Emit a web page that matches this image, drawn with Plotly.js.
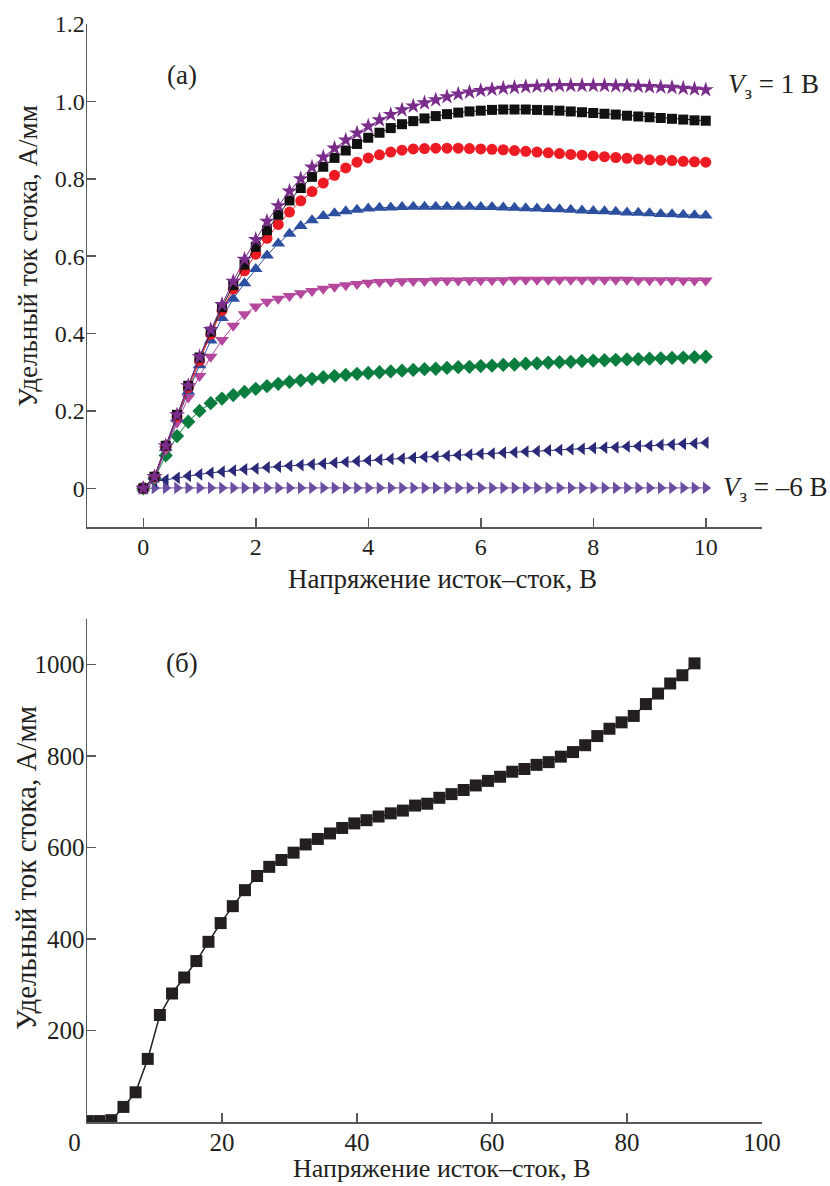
<!DOCTYPE html>
<html>
<head>
<meta charset="utf-8">
<script src="https://cdn.plot.ly/plotly-3.0.1.min.js"></script>
<style>html,body{margin:0;padding:0;background:#fff;}#chart{width:830px;height:1186px;}</style>
</head>
<body>
<div id="chart"></div>
<script>
// ---------- Panel (a): drain current vs drain-source voltage for gate voltages ----------
const vdsA = [0,0.2,0.4,0.6,0.8,1.0,1.2,1.4,1.6,1.8,2.0,2.2,2.4,2.6,2.8,3.0,3.2,3.4,3.6,3.8,4.0,4.2,4.4,4.6,4.8,5.0,5.2,5.4,5.6,5.8,6.0,6.2,6.4,6.6,6.8,7.0,7.2,7.4,7.6,7.8,8.0,8.2,8.4,8.6,8.8,9.0,9.2,9.4,9.6,9.8,10.0];

const idStar = [0,0.03,0.11,0.19,0.265,0.34,0.41,0.475,0.535,0.592,0.643,0.69,0.73,0.768,0.8,0.83,0.856,0.879,0.9,0.918,0.936,0.952,0.966,0.978,0.988,0.996,1.004,1.012,1.019,1.024,1.028,1.031,1.034,1.036,1.038,1.039,1.04,1.041,1.041,1.041,1.041,1.041,1.04,1.04,1.039,1.038,1.037,1.036,1.034,1.032,1.03];
const idSquare = [0,0.03,0.11,0.19,0.265,0.338,0.405,0.468,0.525,0.578,0.624,0.667,0.707,0.744,0.776,0.805,0.831,0.854,0.873,0.89,0.906,0.919,0.931,0.941,0.949,0.956,0.962,0.967,0.971,0.974,0.976,0.978,0.979,0.979,0.979,0.978,0.977,0.976,0.974,0.972,0.97,0.968,0.966,0.963,0.961,0.959,0.957,0.955,0.953,0.951,0.95];
const idCircle = [0,0.03,0.11,0.185,0.26,0.33,0.398,0.46,0.515,0.562,0.605,0.646,0.682,0.714,0.743,0.767,0.789,0.809,0.828,0.843,0.854,0.862,0.869,0.874,0.877,0.878,0.879,0.879,0.879,0.878,0.877,0.876,0.875,0.873,0.871,0.869,0.867,0.865,0.863,0.861,0.859,0.857,0.855,0.853,0.851,0.849,0.848,0.847,0.845,0.844,0.843];
const idTriUp = [0,0.03,0.105,0.18,0.25,0.318,0.382,0.44,0.49,0.53,0.567,0.602,0.633,0.658,0.678,0.693,0.704,0.711,0.716,0.72,0.723,0.725,0.726,0.727,0.728,0.728,0.728,0.728,0.728,0.728,0.727,0.727,0.726,0.725,0.724,0.723,0.722,0.721,0.72,0.718,0.717,0.716,0.715,0.713,0.712,0.711,0.709,0.708,0.707,0.706,0.705];
const idTriDown = [0,0.025,0.1,0.17,0.235,0.29,0.34,0.383,0.42,0.45,0.47,0.482,0.49,0.497,0.504,0.51,0.516,0.521,0.525,0.528,0.531,0.533,0.534,0.535,0.536,0.536,0.537,0.537,0.537,0.538,0.538,0.538,0.538,0.539,0.539,0.539,0.539,0.539,0.539,0.539,0.539,0.539,0.539,0.539,0.538,0.538,0.538,0.538,0.537,0.537,0.537];
const idDiamond = [0,0.026,0.085,0.135,0.172,0.2,0.22,0.232,0.241,0.249,0.257,0.264,0.27,0.275,0.279,0.283,0.287,0.29,0.293,0.296,0.298,0.3,0.302,0.304,0.306,0.308,0.309,0.311,0.313,0.314,0.316,0.317,0.319,0.32,0.322,0.323,0.325,0.326,0.327,0.329,0.33,0.331,0.332,0.333,0.334,0.335,0.336,0.337,0.338,0.339,0.34];
const idTriLeft = [0,0.018,0.022,0.027,0.032,0.036,0.04,0.043,0.046,0.049,0.051,0.054,0.056,0.058,0.06,0.062,0.064,0.066,0.068,0.07,0.072,0.074,0.076,0.077,0.079,0.081,0.082,0.084,0.086,0.087,0.089,0.09,0.092,0.093,0.095,0.096,0.098,0.099,0.101,0.102,0.104,0.105,0.106,0.108,0.109,0.11,0.112,0.113,0.115,0.116,0.118];
const idTriRight = [0,0.001,0.001,0.001,0.001,0.001,0.001,0.001,0.001,0.001,0.001,0.001,0.001,0.001,0.001,0.001,0.001,0.001,0.001,0.001,0.001,0.001,0.001,0.001,0.001,0.001,0.001,0.001,0.001,0.001,0.001,0.001,0.001,0.001,0.001,0.001,0.001,0.001,0.001,0.001,0.001,0.001,0.001,0.001,0.001,0.001,0.001,0.001,0.001,0.001,0.001];

const yTickValsA = [0,0.2,0.4,0.6,0.8,1.0,1.2];
const yTickTextA = ["0","0.2","0.4","0.6","0.8","1.0","1.2"];
const xTickValsA = [0,2,4,6,8,10];

// ---------- Panel (б) ----------
const vdsB = [0,1.8,3.6,5.4,7.2,9,10.8,12.6,14.4,16.2,18,19.8,21.6,23.4,25.2,27,28.8,30.6,32.4,34.2,36,37.8,39.6,41.4,43.2,45,46.8,48.6,50.4,52.2,54,55.8,57.6,59.4,61.2,63,64.8,66.6,68.4,70.2,72,73.8,75.6,77.4,79.2,81,82.8,84.6,86.4,88.2,90];
const idB = [2,2,4,33,65,138,234,281,316,352,394,435,472,507,538,558,573,589,607,619,631,643,653,660,668,675,681,692,696,709,717,726,736,746,755,766,772,781,787,799,809,824,844,860,874,888,914,937,959,977,1003];
const yTickValsB = [200,400,600,800,1000];
const xTickValsB = [0,20,40,60,80,100];
const xTickTextB = ["0\u00a0\u00a0\u00a0\u00a0","20","40","60","80","100"];

// ---------- Text ----------
const yTitle = "Удельный ток стока, А/мм";
const xTitle = "Напряжение исток–сток, В";
const labelA = "(а)";
const labelB = "(б)";
const labelTop = "<i>V</i><sub>з</sub> = 1 В";
const labelBottom = "<i>V</i><sub>з</sub> = –6 В";

const seriesA = [
  {y: idTriRight, symbol: "triangle-right", color: "#6b4ea2", size: 11},
  {y: idTriLeft, symbol: "triangle-left", color: "#2b2a78", size: 11},
  {y: idDiamond, symbol: "diamond", color: "#0b7d3e", size: 11},
  {y: idTriDown, symbol: "triangle-down", color: "#b5489c", size: 12},
  {y: idTriUp, symbol: "triangle-up", color: "#2c4f9f", size: 12},
  {y: idCircle, symbol: "circle", color: "#ed1c24", size: 11},
  {y: idSquare, symbol: "square", color: "#111111", size: 10},
  {y: idStar, symbol: "star", color: "#7a2c8a", size: 12}
];

const FONT = "Liberation Serif, Times New Roman, serif";
const TXT = "#231f20";
const AX = "#58595b";

const traces = seriesA.map(s => ({
  type: "scatter", mode: "lines+markers",
  x: vdsA, y: s.y, xaxis: "x", yaxis: "y",
  line: {color: s.color, width: 1},
  marker: {symbol: s.symbol, color: s.color, size: s.size, line: {width: 0}},
  hoverinfo: "skip", showlegend: false
}));
traces.push({
  type: "scatter", mode: "lines+markers",
  x: vdsB, y: idB, xaxis: "x2", yaxis: "y2",
  line: {color: "#231f20", width: 1.5},
  marker: {symbol: "square", color: "#231f20", size: 12, line: {width: 0}},
  hoverinfo: "skip", showlegend: false
});

const axisCommon = {
  showline: true, linecolor: AX, linewidth: 1.5,
  ticks: "inside", ticklen: 9, tickwidth: 1.5, tickcolor: AX,
  showgrid: false, zeroline: false
};

const L = 87, R = 68, T = 24, B = 64;
const W = 830, H = 1186;
const pw = W - L - R, ph = H - T - B;
const px = v => (v - L) / pw;
const py = v => (H - B - v) / ph;

const fTickA = {family: FONT, size: 24, color: TXT};
const fTickB = {family: FONT, size: 25, color: TXT};
const fTitle = {family: FONT, size: 27, color: TXT};

const layout = {
  width: W, height: H,
  margin: {l: L, r: R, t: T, b: B},
  paper_bgcolor: "#fff", plot_bgcolor: "#fff",
  xaxis: Object.assign({}, axisCommon, {domain: [0, 1], anchor: "y", range: [-1, 11], tickmode: "array", tickvals: xTickValsA, tickfont: fTickA, ticklabelstandoff: -2}),
  yaxis: Object.assign({}, axisCommon, {domain: [py(527), 1], anchor: "x", range: [-0.1, 1.2], tickmode: "array", tickvals: yTickValsA, ticktext: yTickTextA, tickfont: fTickA, ticklabelstandoff: -4}),
  xaxis2: Object.assign({}, axisCommon, {domain: [0, 1], anchor: "y2", range: [0, 100], tickmode: "array", tickvals: xTickValsB, ticktext: xTickTextB, tickfont: fTickB, ticklabelstandoff: -3}),
  yaxis2: Object.assign({}, axisCommon, {domain: [0, py(619)], anchor: "x2", range: [0, 1100], tickmode: "array", tickvals: yTickValsB, tickfont: fTickB, ticklabelstandoff: -4}),
  annotations: [
    {text: xTitle, xref: "paper", yref: "paper", x: px(442), y: py(579), showarrow: false, xanchor: "center", yanchor: "middle", font: fTitle},
    {text: yTitle, xref: "paper", yref: "paper", x: px(28), y: py(256), showarrow: false, textangle: -90, xanchor: "center", yanchor: "middle", font: fTitle},
    {text: xTitle, xref: "paper", yref: "paper", x: px(442), y: py(1185), showarrow: false, xanchor: "center", yanchor: "bottom", font: {family: FONT, size: 26, color: TXT}},
    {text: yTitle, xref: "paper", yref: "paper", x: px(26), y: py(868), showarrow: false, textangle: -90, xanchor: "center", yanchor: "middle", font: {family: FONT, size: 29, color: TXT}},
    {text: labelA, xref: "paper", yref: "paper", x: px(182), y: py(75), showarrow: false, xanchor: "center", yanchor: "middle", font: fTitle},
    {text: labelB, xref: "paper", yref: "paper", x: px(182), y: py(663), showarrow: false, xanchor: "center", yanchor: "middle", font: fTitle},
    {text: labelTop, xref: "paper", yref: "paper", x: px(726), y: py(86), showarrow: false, xanchor: "left", yanchor: "middle", font: fTitle},
    {text: labelBottom, xref: "paper", yref: "paper", x: px(721), y: py(489), showarrow: false, xanchor: "left", yanchor: "middle", font: fTitle}
  ]
};

Plotly.newPlot("chart", traces, layout, {staticPlot: true, displayModeBar: false});
</script>
</body>
</html>
